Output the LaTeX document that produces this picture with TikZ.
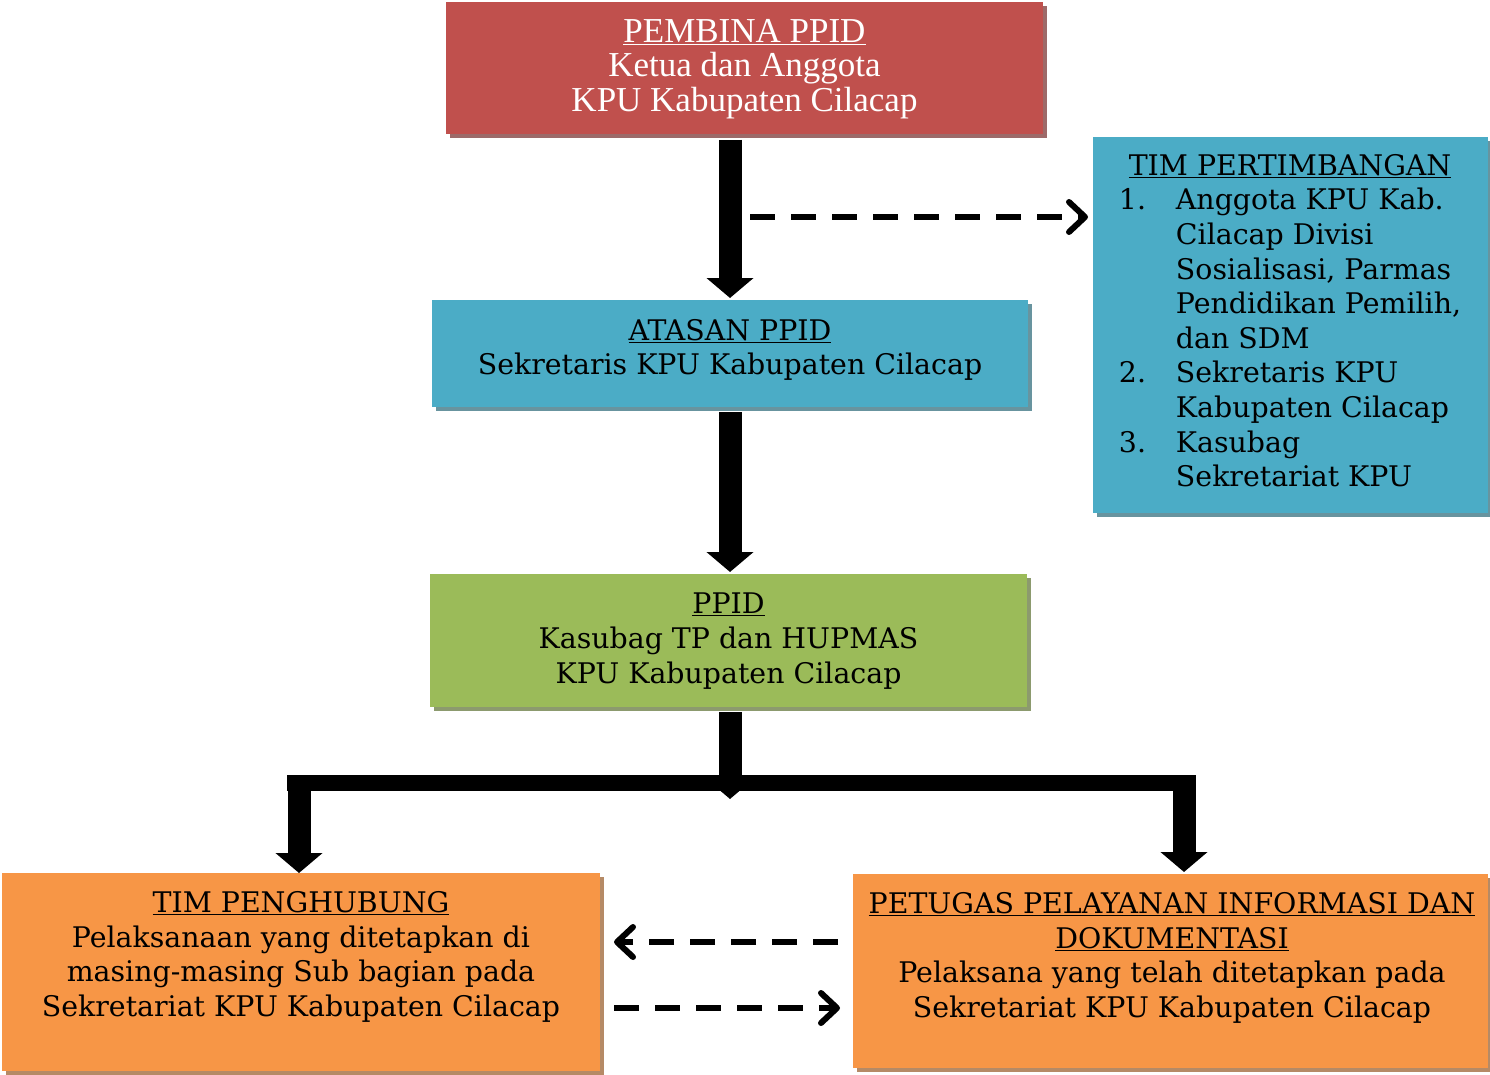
\documentclass[tikz,border=0pt]{standalone}
\usepackage{fontspec}
\setmainfont{DejaVu Serif}
\newfontfamily\redfont{Liberation Serif}
\usetikzlibrary{arrows.meta,shadows}
\definecolor{cred}{HTML}{C0504D}
\definecolor{cblue}{HTML}{4BACC6}
\definecolor{cgreen}{HTML}{9BBB59}
\definecolor{corange}{HTML}{F79646}
\tikzset{
  box/.style={rectangle, inner sep=0pt, outer sep=0pt, fill=#1,
    drop shadow={shadow xshift=4pt, shadow yshift=-4pt, fill=#1!45!gray, opacity=1}},
  txt/.style={align=center, inner sep=0pt, font=\fontsize{28.4}{34.6}\selectfont},
  bigarrow/.style={line width=23pt, -{Triangle[width=46pt,length=20pt]}},
  barline/.style={line width=16pt},
  dasharrow/.style={line width=6pt, dash pattern=on 25pt off 16pt,
    -{Straight Barb[length=16pt,width=30pt,round]}},
}
\begin{document}
\begin{tikzpicture}[x=1pt,y=-1pt]
\useasboundingbox[fill=white] (0,0) rectangle (1490,1075);
% boxes
\node[box=cred, minimum width=597pt, minimum height=132pt] (pembina) at (744.5,68) {};
\node[box=cblue, minimum width=596pt, minimum height=107pt] (atasan) at (730,353.5) {};
\node[box=cgreen, minimum width=597pt, minimum height=133pt] (ppid) at (728.5,640.5) {};
\node[box=cblue, minimum width=395pt, minimum height=376pt] (tim) at (1290.5,325) {};
\node[box=corange, minimum width=598pt, minimum height=198pt] (penghubung) at (301,972) {};
\node[box=corange, minimum width=635pt, minimum height=194pt] (petugas) at (1170.5,971) {};
% texts
\node[txt, text=white, font=\redfont\fontsize{35}{34.6}\selectfont] (pembinaT) at (744.5,69)
  {\underline{PEMBINA PPID}\\Ketua dan Anggota\\KPU Kabupaten Cilacap};
\node[txt] (atasanT) at (730,350) {\underline{ATASAN PPID}\\Sekretaris KPU Kabupaten Cilacap};
\node[txt] (ppidT) at (728.5,641) {\underline{PPID}\\Kasubag TP dan HUPMAS\\KPU Kabupaten Cilacap};
\node[txt, align=left] (timT) at (1290,324) {%
  \begin{tabular}{@{}p{57pt}@{}l@{}}
  \multicolumn{2}{c}{\underline{TIM PERTIMBANGAN}}\\
  1. & Anggota KPU Kab.\\
     & Cilacap Divisi\\
     & Sosialisasi, Parmas\\
     & Pendidikan Pemilih,\\
     & dan SDM\\
  2. & Sekretaris KPU\\
     & Kabupaten Cilacap\\
  3. & Kasubag\\
     & Sekretariat KPU
  \end{tabular}};
\node[txt] (penghubungT) at (301,957) {\underline{TIM PENGHUBUNG}\\Pelaksanaan yang ditetapkan di\\masing-masing Sub bagian pada\\Sekretariat KPU Kabupaten Cilacap};
\node[txt] (petugasT) at (1172,958) {\underline{PETUGAS PELAYANAN INFORMASI DAN}\\\underline{DOKUMENTASI}\\Pelaksana yang telah ditetapkan pada\\Sekretariat KPU Kabupaten Cilacap};
% main arrows
\draw[bigarrow, shorten <=6pt, shorten >=2pt] (pembina.south -| atasan.north) -- (atasan.north);
\draw[bigarrow, shorten <=5pt, shorten >=2pt] (atasan.south) -- (atasan.south |- ppid.north);
\coordinate (fork) at (730,783);
\coordinate (barL) at (287,783);
\coordinate (barR) at (1196,783);
\coordinate (lb) at (299,775);
\coordinate (rb) at (1184,775);
\draw[bigarrow, shorten <=5pt, shorten >=-16pt] (ppid.south -| fork) -- (fork);
\draw[barline] (barL) -- (barR);
\draw[bigarrow] (lb) -- (lb |- penghubung.north);
\draw[bigarrow, shorten >=2pt] (rb) -- (rb |- petugas.north);
% dashed arrows
\coordinate (d0) at (750,217);
\draw[dasharrow, shorten >=5pt] (d0) -- (d0 -| tim.west);
\coordinate (u0) at (838,942);
\draw[dasharrow, shorten >=14pt] (u0) -- (u0 -| penghubung.east);
\coordinate (l0) at (614,1008);
\draw[dasharrow, shorten >=13pt] (l0) -- (l0 -| petugas.west);
\end{tikzpicture}
\end{document}
